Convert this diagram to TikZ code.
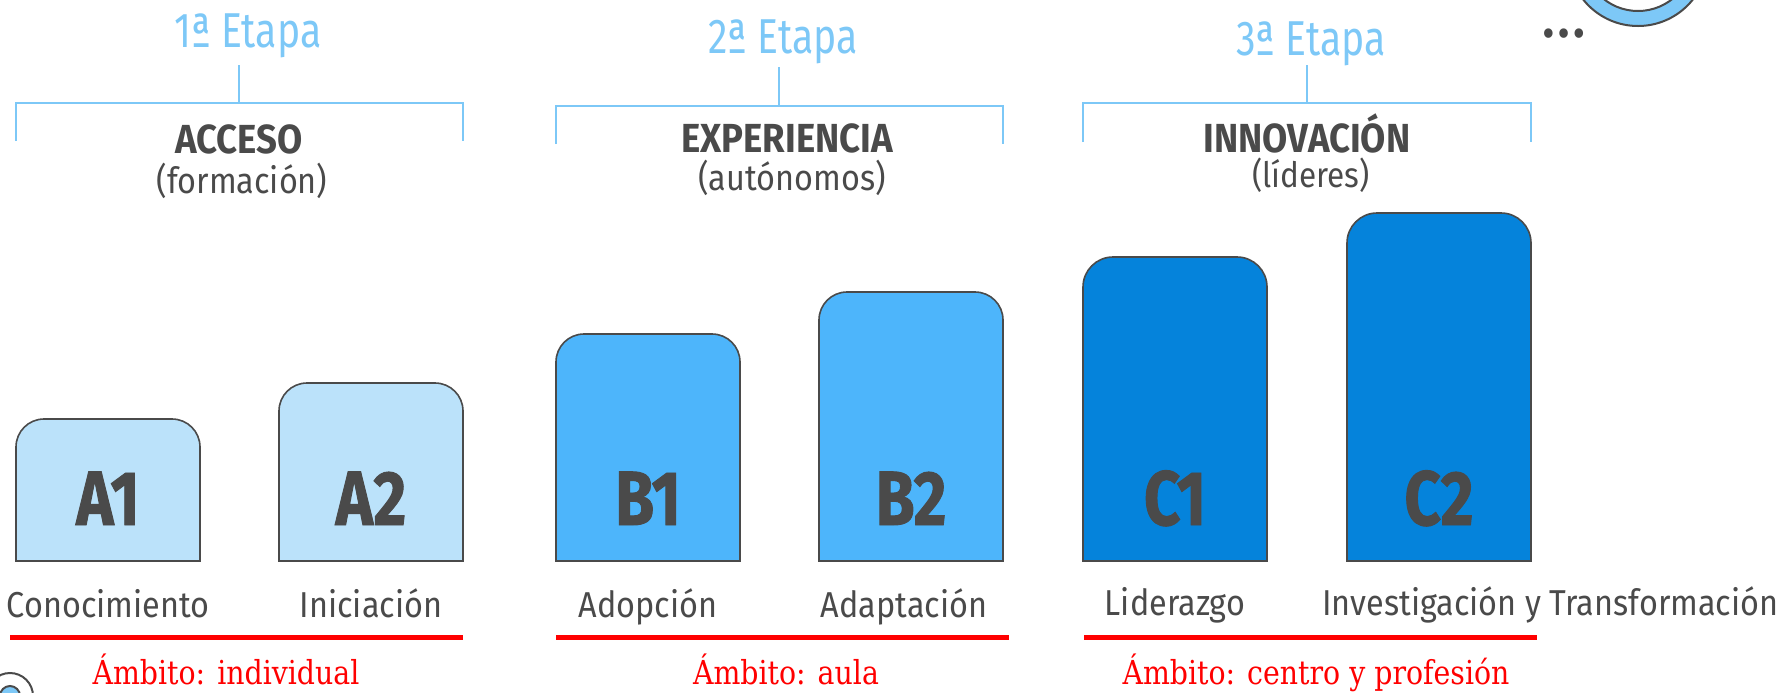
\documentclass[tikz,border=0pt]{standalone}
\usepackage{fontspec}
\setmainfont{Fira Sans}[FakeStretch=0.9]
\newfontfamily\etapafont{Fira Sans}[FakeStretch=0.8]
\newfontfamily\nivelfont{Fira Sans}[FakeStretch=0.82,BoldFeatures={FakeBold=1.2}]
\newfontfamily\ambitofont{DejaVu Serif}[FakeStretch=0.86]
\usepackage{xcolor}
\usepackage{tikz}
\usetikzlibrary{calc}

\definecolor{etapa}{HTML}{7DC8F7}
\definecolor{gris}{HTML}{4A4A4A}
\definecolor{nivelA}{HTML}{BBE2FA}
\definecolor{nivelB}{HTML}{4DB5FB}
\definecolor{nivelC}{HTML}{0583DB}
\definecolor{rojo}{HTML}{FF0000}

\tikzset{
	llave/.style={draw=etapa,line width=1pt},
	caja/.style={draw=gris,line width=0.8pt},
	ambito/.style={draw=rojo,line width=2.5pt},
	etapatxt/.style={inner sep=0,anchor=base,text=etapa,font=\etapafont\fontsize{24.5}{26}\selectfont},
	titulo/.style={inner sep=0,anchor=base,text=gris,font=\bfseries\fontsize{20.3}{22}\selectfont},
	subtitulo/.style={inner sep=0,anchor=base,text=gris,font=\fontsize{18}{20}\selectfont},
	nivel/.style={inner sep=0,anchor=base,text=gris,font=\nivelfont\bfseries\fontsize{38.5}{40}\selectfont},
	etiqueta/.style={inner sep=0,anchor=base,text=gris,font=\fontsize{18}{20}\selectfont},
	ambitotxt/.style={inner sep=0,anchor=base,text=rojo,font=\ambitofont\fontsize{16.5}{18}\selectfont}
}

\begin{document}
\begin{tikzpicture}[x=0.5pt,y=-0.5pt]
\useasboundingbox (0,0) rectangle (1783,692);
\clip (0,0) rectangle (1783,692);

%anillos
\draw[gris,line width=1pt,fill=etapa,even odd rule] (1638,-44) circle[radius=70] (1638,-44) circle[radius=55];
\draw[gris,line width=1pt] (10,696) circle[radius=23];
\draw[gris,line width=1pt,fill=etapa] (10,696) circle[radius=10];
\node[inner sep=0,anchor=base,text=gris,font=\fontsize{34}{36}\selectfont] (puntos) at (1564,37) {…};

\begin{scope} %1a etapa
	\node[etapatxt] (E1) at (248,47) {1ª Etapa};
	\coordinate (E1b) at (239,65);
	\coordinate (E1c) at (239,103);
	\coordinate (L1) at (16,141);
	\coordinate (R1) at (463,141);
	\draw[llave] (E1b) -- (E1c);
	\draw[llave] (L1) -- (16,103) -| (R1);
	\node[titulo] (T1) at (239,153) {ACCESO};
	\node[subtitulo] (S1) at (242,193) {(formación)};

	\draw[caja,fill=nivelA] (16,561) -- (16,447) arc[start angle=180,end angle=270,radius=28] -- (172,419) arc[start angle=270,end angle=360,radius=28] -- (200,561) -- cycle;
	\node[nivel] (A1) at (108,525) {A1};
	\draw[caja,fill=nivelA] (279,561) -- (279,411) arc[start angle=180,end angle=270,radius=28] -- (435,383) arc[start angle=270,end angle=360,radius=28] -- (463,561) -- cycle;
	\node[nivel] (A2) at (371,525) {A2};

	\node[etiqueta] (eA1) at (108,617) {Conocimiento};
	\node[etiqueta] (eA2) at (371,617) {Iniciación};
	\coordinate (RA) at (10,637);
	\coordinate (RB) at (463,637);
	\draw[ambito] (RA) -- (RB);
	\node[ambitotxt] (M1) at (226,684) {Ámbito: individual};
\end{scope}

\begin{scope} %2a etapa
	\node[etapatxt] (E2) at (783,53) {2ª Etapa};
	\coordinate (E2b) at (779,67);
	\coordinate (E2c) at (779,106);
	\coordinate (L2) at (556,144);
	\coordinate (R2) at (1003,144);
	\draw[llave] (E2b) -- (E2c);
	\draw[llave] (L2) -- (556,106) -| (R2);
	\node[titulo] (T2) at (787,152) {EXPERIENCIA};
	\node[subtitulo] (S2) at (792,190) {(autónomos)};

	\draw[caja,fill=nivelB] (556,561) -- (556,362) arc[start angle=180,end angle=270,radius=28] -- (712,334) arc[start angle=270,end angle=360,radius=28] -- (740,561) -- cycle;
	\node[nivel] (B1) at (648,525) {B1};
	\draw[caja,fill=nivelB] (819,561) -- (819,320) arc[start angle=180,end angle=270,radius=28] -- (975,292) arc[start angle=270,end angle=360,radius=28] -- (1003,561) -- cycle;
	\node[nivel] (B2) at (911,525) {B2};

	\node[etiqueta] (eB1) at (648,617) {Adopción};
	\node[etiqueta] (eB2) at (904,617) {Adaptación};
	\coordinate (RC) at (556,637);
	\coordinate (RD) at (1009,637);
	\draw[ambito] (RC) -- (RD);
	\node[ambitotxt] (M2) at (786,684) {Ámbito: aula};
\end{scope}

\begin{scope} %3a etapa
	\node[etapatxt] (E3) at (1311,55) {3ª Etapa};
	\coordinate (E3b) at (1307,65);
	\coordinate (E3c) at (1307,103);
	\coordinate (L3) at (1083,142);
	\coordinate (R3) at (1531,142);
	\draw[llave] (E3b) -- (E3c);
	\draw[llave] (L3) -- (1083,103) -| (R3);
	\node[titulo] (T3) at (1307,152) {INNOVACIÓN};
	\node[subtitulo,font=\fontsize{17.5}{19}\selectfont] (S3) at (1311,187) {(líderes)};

	\draw[caja,fill=nivelC] (1083,561) -- (1083,287) arc[start angle=180,end angle=270,radius=30] -- (1237,257) arc[start angle=270,end angle=360,radius=30] -- (1267,561) -- cycle;
	\node[nivel] (C1) at (1175,525) {C1};
	\draw[caja,fill=nivelC] (1347,561) -- (1347,243) arc[start angle=180,end angle=270,radius=30] -- (1501,213) arc[start angle=270,end angle=360,radius=30] -- (1531,561) -- cycle;
	\node[nivel] (C2) at (1439,525) {C2};

	\node[etiqueta] (eC1) at (1175,615) {Liderazgo};
	\node[etiqueta,anchor=base west] (eC2) at (1322,615) {Investigación y Transformación};
	\coordinate (RE) at (1084,637);
	\coordinate (RF) at (1537,637);
	\draw[ambito] (RE) -- (RF);
	\node[ambitotxt] (M3) at (1316,684) {Ámbito: centro y profesión};
\end{scope}

\end{tikzpicture}
\end{document}
